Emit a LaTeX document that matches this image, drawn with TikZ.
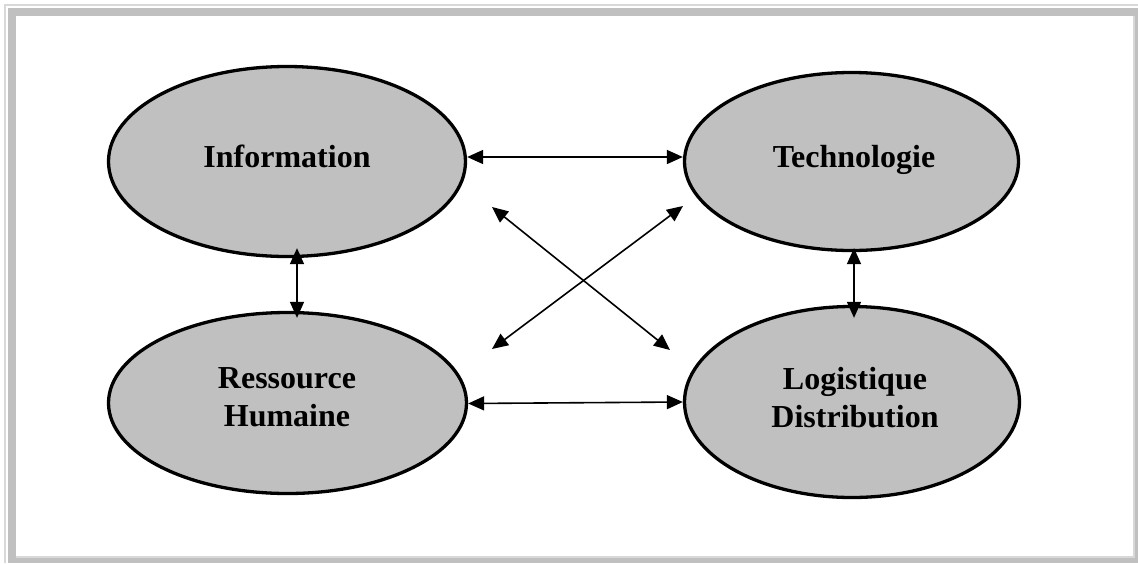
\documentclass[tikz,border=0pt]{standalone}
\usepackage{fontspec}
\setmainfont{Liberation Serif}
\usetikzlibrary{shapes.geometric,arrows.meta}
\definecolor{ovalgray}{HTML}{C0C0C0}
\definecolor{framegray}{HTML}{C0C0C0}
\definecolor{framelight}{HTML}{D8D8D8}
\tikzset{
  oval/.style={ellipse, draw=black, line width=3.3pt, fill=ovalgray, inner sep=0pt},
  lbl/.style={font=\bfseries\fontsize{32}{38}\selectfont, align=center, inner sep=0pt},
  biarrow/.style={line width=1.6pt, {Triangle[length=16pt,width=14pt]}-{Triangle[length=16pt,width=14pt]}}
}
\begin{document}
\begin{tikzpicture}[x=1pt,y=-1pt]
\useasboundingbox (0,0) rectangle (1138,563);
\fill[white] (0,0) rectangle (1138,563);
% frame
\draw[framelight, line width=2pt] (5,563) -- (5,5) -- (1138,5);
\fill[framegray] (8,8) rectangle (1138,563);
\fill[white] (16,16) rectangle (1134,557);
\draw[framelight, line width=1.5pt] (16,557) -- (1134,557) -- (1134,16);
% ovals
\node[oval, minimum width=357pt, minimum height=190pt] (info) at (287,161.5) {};
\node[oval, minimum width=334pt, minimum height=178pt] (tech) at (851.5,161.5) {};
\node[oval, minimum width=358pt, minimum height=181pt] (res) at (287.5,403) {};
\node[oval, minimum width=335pt, minimum height=191pt] (log) at (852,402) {};
% labels
\node[lbl, anchor=base] (infot) at (287,167) {Information};
\node[lbl, anchor=base] (techt) at (854,167) {Technologie};
\node[lbl] (rest) at (287,397.5) {Ressource\\Humaine};
\node[lbl] (logt) at (855,398) {Logistique\\Distribution};
% connectors
\draw[biarrow] ([yshift=4.5pt]info.east) -- ([yshift=4.5pt]info.east -| tech.west);
\draw[biarrow] ([yshift=-0.5pt]res.east) -- (log.west);
\draw[biarrow] ([xshift=10pt,yshift=10pt]info.south) -- ([xshift=9.5pt,yshift=-7pt]res.north);
\draw[biarrow] ([xshift=2.5pt,yshift=4pt]tech.south) -- ([xshift=2pt,yshift=-13pt]log.north);
\coordinate (d1a) at (492,207);
\coordinate (d1b) at (670,350);
\coordinate (d2a) at (683,206);
\coordinate (d2b) at (492,349);
\draw[biarrow] (d1a) -- (d1b);
\draw[biarrow] (d2a) -- (d2b);
\end{tikzpicture}
\end{document}
